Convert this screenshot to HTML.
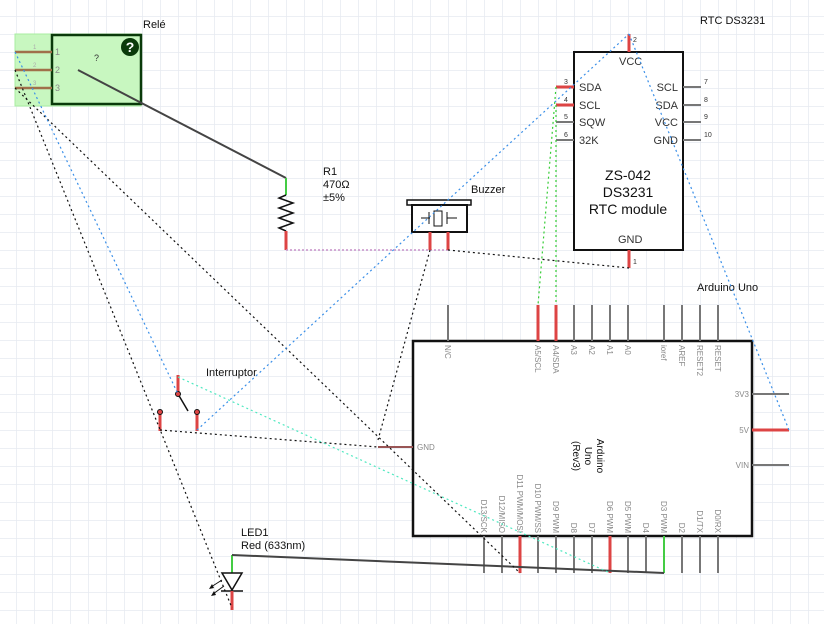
<!DOCTYPE html>
<html><head><meta charset="utf-8"><style>
html,body{margin:0;padding:0;background:#fff;}
svg{display:block;font-family:"Liberation Sans",sans-serif;}
</style></head><body>
<svg width="824" height="624" viewBox="0 0 824 624" xmlns="http://www.w3.org/2000/svg">
<defs>
<pattern id="g" x="16" y="16" width="18" height="18" patternUnits="userSpaceOnUse">
<path d="M0 0H18M0 0V18" stroke="#e6eaf0" stroke-width="1.5" fill="none"/>
</pattern>
</defs>
<rect width="824" height="624" fill="url(#g)"/>

<!-- Relé -->
<rect x="15" y="34" width="126" height="72" fill="#c8f7c0" stroke="#a8eea0"/>
<rect x="52" y="35" width="89" height="69" fill="none" stroke="#0a3a0a" stroke-width="2.5"/>
<circle cx="130" cy="47" r="9" fill="#0a3a0a"/>
<text x="130" y="52" font-size="14" font-weight="bold" fill="#fff" text-anchor="middle">?</text>
<g stroke="#a0704a" stroke-width="2.5"><line x1="15" y1="52" x2="52" y2="52"/><line x1="15" y1="70" x2="52" y2="70"/><line x1="15" y1="88" x2="52" y2="88"/></g>
<g font-size="9" fill="#888"><text x="55" y="55">1</text><text x="55" y="73">2</text><text x="55" y="91">3</text></g>
<g font-size="6" fill="#aaa"><text x="33" y="49">1</text><text x="33" y="67">2</text><text x="33" y="85">3</text></g>
<text x="94" y="61" font-size="9" fill="#333">?</text>
<text x="143" y="28" font-size="11" fill="#111">Relé</text>
<line x1="78" y1="70" x2="286" y2="178" stroke="#444" stroke-width="2"/>

<!-- R1 -->
<line x1="286" y1="178" x2="286" y2="195" stroke="#4c4" stroke-width="2"/>
<polyline points="286,195 279,198 293,203 279,208 293,213 279,218 293,223 279,228 286,231" fill="none" stroke="#111" stroke-width="1.5"/>
<line x1="286" y1="231" x2="286" y2="250" stroke="#d44" stroke-width="3"/>
<g font-size="11" fill="#111"><text x="323" y="175">R1</text><text x="323" y="188">470Ω</text><text x="323" y="201">±5%</text></g>
<line x1="286" y1="250" x2="448" y2="250" stroke="#c890c8" stroke-width="1.5" stroke-dasharray="2,2"/>

<!-- Buzzer -->
<rect x="407" y="200" width="64" height="5" fill="#fff" stroke="#111" stroke-width="1.5"/>
<rect x="412" y="205" width="55" height="27" fill="#fff" stroke="#111" stroke-width="2"/>
<line x1="421" y1="218" x2="430" y2="218" stroke="#111"/><line x1="429" y1="212" x2="429" y2="224" stroke="#111"/>
<rect x="434" y="211" width="8" height="15" fill="#fff" stroke="#111"/>
<line x1="447" y1="212" x2="447" y2="224" stroke="#111"/><line x1="447" y1="218" x2="457" y2="218" stroke="#111"/>
<line x1="430" y1="232" x2="430" y2="250" stroke="#d44" stroke-width="3"/>
<line x1="448" y1="232" x2="448" y2="250" stroke="#d44" stroke-width="3"/>
<text x="471" y="193" font-size="11" fill="#111">Buzzer</text>

<!-- RTC -->
<rect x="574" y="52" width="109" height="198" fill="#fff" stroke="#111" stroke-width="2"/>
<line x1="629" y1="34" x2="629" y2="52" stroke="#d44" stroke-width="3"/>
<line x1="629" y1="250" x2="629" y2="268" stroke="#d44" stroke-width="3"/>
<line x1="556" y1="87" x2="574" y2="87" stroke="#d44" stroke-width="3"/>
<line x1="556" y1="105" x2="574" y2="105" stroke="#d44" stroke-width="3"/>
<g stroke="#777" stroke-width="2"><line x1="556" y1="122" x2="574" y2="122"/><line x1="556" y1="140" x2="574" y2="140"/>
<line x1="683" y1="87" x2="701" y2="87"/><line x1="683" y1="105" x2="701" y2="105"/><line x1="683" y1="122" x2="701" y2="122"/><line x1="683" y1="140" x2="701" y2="140"/></g>
<g font-size="11" fill="#333"><text x="619" y="65">VCC</text><text x="579" y="91">SDA</text><text x="579" y="109">SCL</text><text x="579" y="126">SQW</text><text x="579" y="144">32K</text>
<text x="678" y="91" text-anchor="end">SCL</text><text x="678" y="109" text-anchor="end">SDA</text><text x="678" y="126" text-anchor="end">VCC</text><text x="678" y="144" text-anchor="end">GND</text><text x="618" y="243">GND</text></g>
<g font-size="7" fill="#333"><text x="564" y="84">3</text><text x="564" y="102">4</text><text x="564" y="119">5</text><text x="564" y="137">6</text>
<text x="704" y="84">7</text><text x="704" y="102">8</text><text x="704" y="119">9</text><text x="704" y="137">10</text><text x="633" y="42">2</text><text x="633" y="264">1</text></g>
<g font-size="14" fill="#111" text-anchor="middle"><text x="628" y="180">ZS-042</text><text x="628" y="197">DS3231</text><text x="628" y="214">RTC module</text></g>
<text x="700" y="24" font-size="11" fill="#111">RTC DS3231</text>

<!-- Arduino -->
<rect x="413" y="341" width="339" height="195" fill="#fff" stroke="#111" stroke-width="2.5"/>
<g stroke="#777" stroke-width="2">
<line x1="448" y1="305" x2="448" y2="341"/><line x1="574" y1="305" x2="574" y2="341"/><line x1="592" y1="305" x2="592" y2="341"/><line x1="610" y1="305" x2="610" y2="341"/><line x1="628" y1="305" x2="628" y2="341"/><line x1="664" y1="305" x2="664" y2="341"/><line x1="682" y1="305" x2="682" y2="341"/><line x1="700" y1="305" x2="700" y2="341"/><line x1="718" y1="305" x2="718" y2="341"/>
<line x1="752" y1="394" x2="789" y2="394"/><line x1="752" y1="465" x2="789" y2="465"/>
<line x1="484" y1="536" x2="484" y2="573"/><line x1="502" y1="536" x2="502" y2="573"/><line x1="538" y1="536" x2="538" y2="573"/><line x1="556" y1="536" x2="556" y2="573"/><line x1="574" y1="536" x2="574" y2="573"/><line x1="592" y1="536" x2="592" y2="573"/><line x1="628" y1="536" x2="628" y2="573"/><line x1="646" y1="536" x2="646" y2="573"/><line x1="682" y1="536" x2="682" y2="573"/><line x1="700" y1="536" x2="700" y2="573"/><line x1="718" y1="536" x2="718" y2="573"/>
</g>
<g stroke="#d44" stroke-width="3"><line x1="538" y1="305" x2="538" y2="341"/><line x1="556" y1="305" x2="556" y2="341"/><line x1="752" y1="430" x2="789" y2="430"/><line x1="520" y1="536" x2="520" y2="573"/><line x1="610" y1="536" x2="610" y2="573"/></g>
<line x1="664" y1="536" x2="664" y2="573" stroke="#4c4" stroke-width="2"/>
<line x1="378" y1="447" x2="413" y2="447" stroke="#955" stroke-width="2"/>
<g font-size="8" fill="#888">
<text transform="translate(445,345) rotate(90)">N/C</text><text transform="translate(535,345) rotate(90)">A5/SCL</text><text transform="translate(553,345) rotate(90)">A4/SDA</text><text transform="translate(571,345) rotate(90)">A3</text><text transform="translate(589,345) rotate(90)">A2</text><text transform="translate(607,345) rotate(90)">A1</text><text transform="translate(625,345) rotate(90)">A0</text><text transform="translate(661,345) rotate(90)">ioref</text><text transform="translate(679,345) rotate(90)">AREF</text><text transform="translate(697,345) rotate(90)">RESET2</text><text transform="translate(715,345) rotate(90)">RESET</text>
<g text-anchor="end"><text transform="translate(481,533) rotate(90)" text-anchor="end">D13/SCK</text><text transform="translate(499,533) rotate(90)">D12/MISO</text><text transform="translate(517,533) rotate(90)">D11 PWM/MOSI</text><text transform="translate(535,533) rotate(90)">D10 PWM/SS</text><text transform="translate(553,533) rotate(90)">D9 PWM</text><text transform="translate(571,533) rotate(90)">D8</text><text transform="translate(589,533) rotate(90)">D7</text><text transform="translate(607,533) rotate(90)">D6 PWM</text><text transform="translate(625,533) rotate(90)">D5 PWM</text><text transform="translate(643,533) rotate(90)">D4</text><text transform="translate(661,533) rotate(90)">D3 PWM</text><text transform="translate(679,533) rotate(90)">D2</text><text transform="translate(697,533) rotate(90)">D1/TX</text><text transform="translate(715,533) rotate(90)">D0/RX</text>
<text x="749" y="397">3V3</text><text x="749" y="433">5V</text><text x="749" y="468">VIN</text></g>
<text x="417" y="450">GND</text>
</g>
<g font-size="10" fill="#111" text-anchor="middle"><text transform="translate(597,456) rotate(90)">Arduino</text><text transform="translate(585,456) rotate(90)">Uno</text><text transform="translate(573,456) rotate(90)">(Rev3)</text></g>
<text x="697" y="291" font-size="11" fill="#111">Arduino Uno</text>

<!-- Interruptor -->
<line x1="178" y1="375" x2="178" y2="394" stroke="#d44" stroke-width="3"/>
<line x1="160" y1="412" x2="160" y2="431" stroke="#d44" stroke-width="3"/>
<line x1="197" y1="412" x2="197" y2="431" stroke="#d44" stroke-width="3"/>
<line x1="178" y1="394" x2="188" y2="411" stroke="#111" stroke-width="1.5"/>
<g fill="#d44" stroke="#111"><circle cx="178" cy="394" r="2.5"/><circle cx="160" cy="412" r="2.5"/><circle cx="197" cy="412" r="2.5"/></g>
<text x="206" y="376" font-size="11" fill="#111">Interruptor</text>

<!-- LED -->
<line x1="232" y1="555" x2="232" y2="573" stroke="#4c4" stroke-width="2"/>
<polygon points="222,573 242,573 232,590" fill="#fff" stroke="#111" stroke-width="1.5"/>
<line x1="221" y1="591" x2="243" y2="591" stroke="#111" stroke-width="1.5"/>
<line x1="232" y1="591" x2="232" y2="610" stroke="#d44" stroke-width="3"/>
<g stroke="#111" stroke-width="1"><line x1="222" y1="580" x2="211" y2="587"/><line x1="224" y1="586" x2="213" y2="594"/></g>
<g fill="#111"><polygon points="209,589 212,584 214,588"/><polygon points="211,596 214,591 216,595"/></g>
<text x="241" y="536" font-size="11" fill="#111">LED1</text>
<text x="241" y="549" font-size="11" fill="#111">Red (633nm)</text>
<line x1="232" y1="555" x2="664" y2="573" stroke="#444" stroke-width="2"/>

<!-- ratsnest -->
<g fill="none" stroke-width="1.2" stroke-dasharray="2,3">
<g stroke="#111"><line x1="15" y1="70" x2="232" y2="608"/><line x1="15" y1="88" x2="520" y2="573"/><line x1="160" y1="430" x2="378" y2="447"/><line x1="378" y1="440" x2="430" y2="250"/><line x1="448" y1="250" x2="629" y2="268"/></g>
<g stroke="#3a8fe8"><line x1="15" y1="52" x2="178" y2="394"/><line x1="197" y1="430" x2="629" y2="34"/><line x1="629" y1="34" x2="789" y2="430"/></g>
<g stroke="#3c3"><line x1="556" y1="87" x2="538" y2="305"/><line x1="556" y1="105" x2="556" y2="305"/></g>
<line x1="178" y1="377" x2="610" y2="573" stroke="#4fe8c0"/>
</g>
</svg>
</body></html>
